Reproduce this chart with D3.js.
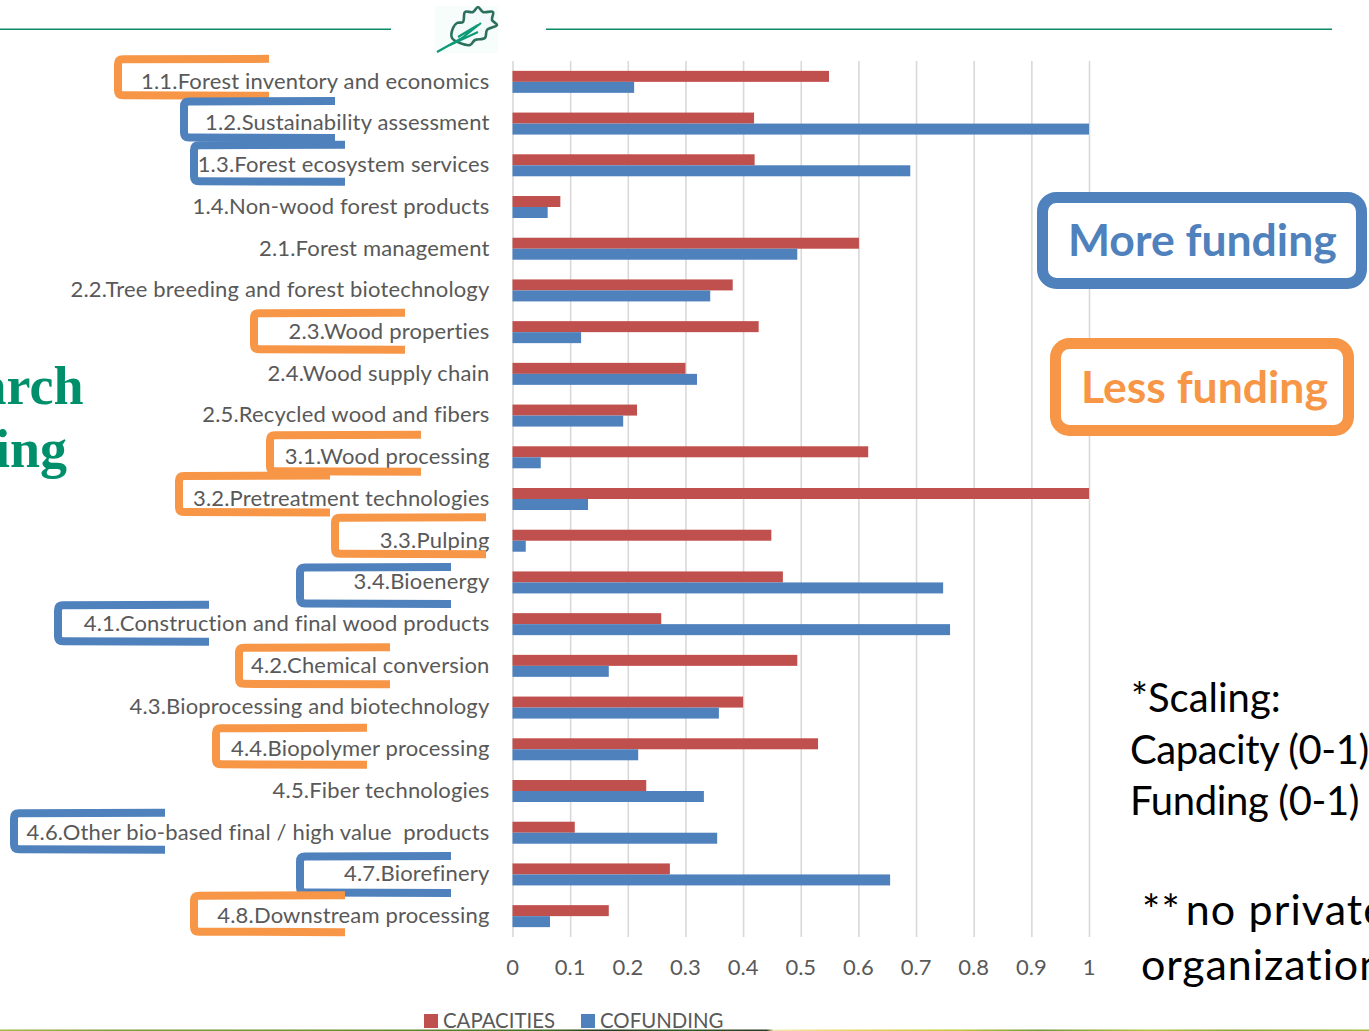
<!DOCTYPE html>
<html>
<head>
<meta charset="utf-8">
<script src="https://cdnjs.cloudflare.com/ajax/libs/d3/7.8.5/d3.min.js"></script>
<style>
  html, body { margin: 0; padding: 0; background: #fff; overflow: hidden; }
  svg { display: block; }
  text { font-family: Lato, "Open Sans", sans-serif; }
</style>
</head>
<body>
<svg id="chart" width="1369" height="1031"></svg>
<script>
// Research topics, top to bottom
const topics = [
  "1.1.Forest inventory and economics", "1.2.Sustainability assessment",
  "1.3.Forest ecosystem services", "1.4.Non-wood forest products",
  "2.1.Forest management", "2.2.Tree breeding and forest biotechnology",
  "2.3.Wood properties", "2.4.Wood supply chain", "2.5.Recycled wood and fibers",
  "3.1.Wood processing", "3.2.Pretreatment technologies", "3.3.Pulping",
  "3.4.Bioenergy", "4.1.Construction and final wood products",
  "4.2.Chemical conversion", "4.3.Bioprocessing and biotechnology",
  "4.4.Biopolymer processing", "4.5.Fiber technologies",
  "4.6.Other bio-based final / high value  products", "4.7.Biorefinery",
  "4.8.Downstream processing"
];
const capacities = [0.549, 0.419, 0.42, 0.083, 0.601, 0.382, 0.427, 0.30, 0.216,
  0.617, 1.0, 0.449, 0.469, 0.258, 0.494, 0.40, 0.53, 0.232, 0.108, 0.273, 0.167];
const cofunding = [0.211, 1.0, 0.69, 0.061, 0.494, 0.343, 0.119, 0.32, 0.192,
  0.049, 0.131, 0.023, 0.747, 0.759, 0.167, 0.358, 0.218, 0.332, 0.355, 0.655, 0.065];
const xTicks = [0, 0.1, 0.2, 0.3, 0.4, 0.5, 0.6, 0.7, 0.8, 0.9, 1];

// Topics singled out as receiving more or less funding than their capacity suggests
const highlighted = [
  { topic: 0, kind: "less", left: 114, shift: -4.5 },
  { topic: 1, kind: "more", left: 180, shift: -4 },
  { topic: 2, kind: "more", left: 190, shift: -2 },
  { topic: 6, kind: "less", left: 250, shift: -1 },
  { topic: 9, kind: "less", left: 266, shift: -4 },
  { topic: 10, kind: "less", left: 175, shift: -5 },
  { topic: 11, kind: "less", left: 331, shift: -5 },
  { topic: 12, kind: "more", left: 296, shift: 3 },
  { topic: 13, kind: "more", left: 54, shift: -1 },
  { topic: 14, kind: "less", left: 235, shift: 0 },
  { topic: 16, kind: "less", left: 212, shift: -3 },
  { topic: 18, kind: "more", left: 10, shift: -1.5 },
  { topic: 19, kind: "more", left: 296, shift: 0 },
  { topic: 20, kind: "less", left: 190, shift: -2.5 }
];

const RED = "#c0504d", BLUE = "#4f81bd", ORANGE = "#f79646", GREEN = "#008f6b", GREY = "#595959";
const kindColour = { more: BLUE, less: ORANGE };

const svg = d3.select("#chart");
const x = d3.scaleLinear().domain([0, 1]).range([512.5, 1089]);
const y = d3.scaleBand().domain(topics.map((_, i) => i)).range([61, 937]);
const barH = 11;

// Header rule and oak leaf emblem
const rule = svg.append("g").attr("fill", "#0b8a68");
rule.append("rect").attr("x", 0).attr("width", 391).attr("y", 28.5).attr("height", 1.5);
rule.append("rect").attr("x", 546).attr("width", 786).attr("y", 28.5).attr("height", 1.5);

const defs = svg.append("defs");
defs.append("filter").attr("id", "soft").append("feGaussianBlur").attr("stdDeviation", 0.5);
const leaf = svg.append("g").attr("filter", "url(#soft)");
leaf.append("rect").attr("x", 435).attr("y", 6).attr("width", 63).attr("height", 47).attr("fill", "#f6fdfb");
const leafOutline = [[452, 38], [453, 28], [457, 23], [463, 22], [465, 12], [473, 12], [478, 7],
  [483, 12], [493, 12], [492, 20], [497, 25], [487, 30], [485, 38], [475, 40], [470, 45], [460, 43]];
leaf.append("path")
  .attr("d", d3.line().curve(d3.curveCatmullRomClosed)(leafOutline))
  .attr("fill", "#f2fbf9").attr("stroke", "#2c6f5c").attr("stroke-width", 2.6);
leaf.append("path").attr("d", "M437 52L462 38L481 23M450 45L478 32M458 37L478 25")
  .attr("fill", "none").attr("stroke", "#0f9a76").attr("stroke-width", 2.2);

// Section heading cut off by the slide edge
const heading = svg.append("g").attr("text-anchor", "end")
  .attr("fill", "#008f6b").attr("font-weight", 700).style("font-size", "54px");
heading.append("text").attr("x", 83.5).attr("y", 404).style("font-family", "'Liberation Serif', serif").text("arch");
heading.append("text").attr("x", 67).attr("y", 467).style("font-family", "'Liberation Serif', serif").text("ing");

// Vertical gridlines and value axis
const axis = svg.append("g").attr("transform", "translate(0,937)")
  .call(d3.axisBottom(x).tickValues(xTicks).tickFormat(d3.format("~g")).tickSize(876).tickSizeOuter(0));
axis.select(".domain").remove();
axis.selectAll(".tick line").attr("y1", 0).attr("y2", -876).attr("stroke", "#d9d9d9").attr("stroke-width", 1.6);
axis.selectAll(".tick text").attr("y", 30).attr("dy", "0.36em").attr("dx", -0.5)
  .attr("fill", GREY).style("font-size", "22px").style("font-family", "Lato, sans-serif");

// Paired bars for each topic
const rows = svg.append("g").selectAll("g").data(topics).join("g")
  .attr("transform", (_, i) => `translate(0,${y(i) + y.bandwidth() / 2})`);
rows.append("rect").attr("x", x(0)).attr("y", -barH)
  .attr("width", (_, i) => x(capacities[i]) - x(0)).attr("height", barH).attr("fill", RED);
rows.append("rect").attr("x", x(0)).attr("y", 0)
  .attr("width", (_, i) => x(cofunding[i]) - x(0)).attr("height", barH).attr("fill", BLUE);

// Open brackets around the highlighted topic names
const bracketW = 155, bracketH = 36, bracketR = 5;
svg.append("g").selectAll("path").data(highlighted).join("path")
  .attr("fill", "none").attr("stroke-width", 8)
  .attr("stroke", d => kindColour[d.kind])
  .attr("d", d => {
    const cy = y(d.topic) + y.bandwidth() / 2 + d.shift;
    const l = d.left + 4, r = d.left + bracketW, t = cy - bracketH / 2, b = cy + bracketH / 2;
    return `M${r} ${t - 0.5}L${l + bracketR} ${t}Q${l} ${t} ${l} ${t + bracketR}` +
           `L${l} ${b - bracketR}Q${l} ${b} ${l + bracketR} ${b}L${r} ${b + 0.5}`;
  });

// Topic names, right-aligned against the axis
rows.append("text").attr("x", 489.5).attr("dy", "0.31em").attr("text-anchor", "end")
  .attr("fill", GREY).style("font-size", "22px").style("letter-spacing", "0.17px")
  .style("white-space", "pre").text(d => d);

// Legend
const legend = svg.append("g");
[[424, "CAPACITIES", RED], [581, "COFUNDING", BLUE]].forEach(([lx, name, colour]) => {
  legend.append("rect").attr("x", lx).attr("y", 1014).attr("width", 14).attr("height", 14).attr("fill", colour);
  legend.append("text").attr("x", lx + 19).attr("y", 1027.5).attr("fill", GREY)
    .style("font-size", "20.4px").text(name);
});

// Thin strip of the slide's photo footer along the bottom edge
const stripColours = [
  [0, "#a9b84a"], [0.08, "#7f9f3c"], [0.2, "#6d9a2f"], [0.3, "#5d8a2a"], [0.4, "#3f6b22"],
  [0.44, "#1f3a1a"], [0.5, "#2e5a24"], [0.56, "#283a22"], [0.565, "#f3e9b0"], [0.62, "#e5d565"],
  [0.7, "#c2c83a"], [0.76, "#6f9a3a"], [0.84, "#b9c440"], [0.9, "#8aa83c"], [1, "#aab93f"]
];
const stripGrad = defs.append("linearGradient").attr("id", "strip");
stripColours.forEach(([o, c]) => stripGrad.append("stop").attr("offset", o).attr("stop-color", c));
svg.append("rect").attr("x", 0).attr("y", 1029.5).attr("width", 1369).attr("height", 1.5).attr("fill", "url(#strip)");

// Callout boxes for the two bracket colours
const callouts = [
  { label: "More funding", colour: BLUE, x0: 1037, x1: 1367, y0: 192, y1: 289, base: 256, tx: 1068 },
  { label: "Less funding", colour: ORANGE, x0: 1050, x1: 1354, y0: 338, y1: 436, base: 403, tx: 1081 }
];
callouts.forEach(c => {
  svg.append("rect").attr("x", c.x0 + 5.5).attr("y", c.y0 + 5.5)
    .attr("width", c.x1 - c.x0 - 11).attr("height", c.y1 - c.y0 - 11).attr("rx", 14)
    .attr("fill", "#fff").attr("stroke", c.colour).attr("stroke-width", 11);
  svg.append("text").attr("x", c.tx).attr("y", c.base).attr("fill", c.colour)
    .attr("font-weight", 700).style("font-size", "44.5px").text(c.label);
});

// Scaling footnotes
[["*Scaling:", 1131, 712, 40, 0], ["Capacity (0-1)", 1130, 764, 40, -0.4], ["Funding (0-1)", 1130, 814.5, 40, -0.35],
 ["organization", 1141, 980, 43, 0.9]].forEach(([t, tx, ty, size, spacing]) => {
  svg.append("text").attr("x", tx).attr("y", ty).attr("fill", "#000")
    .style("font-size", size + "px").style("letter-spacing", spacing + "px").text(t);
});
const privateNote = svg.append("text").attr("x", 1142).attr("y", 925).attr("fill", "#000")
  .style("font-size", "43px").style("letter-spacing", "1.1px");
privateNote.append("tspan").text("**");
privateNote.append("tspan").attr("dx", 5).text("no private");
</script>
</body>
</html>
